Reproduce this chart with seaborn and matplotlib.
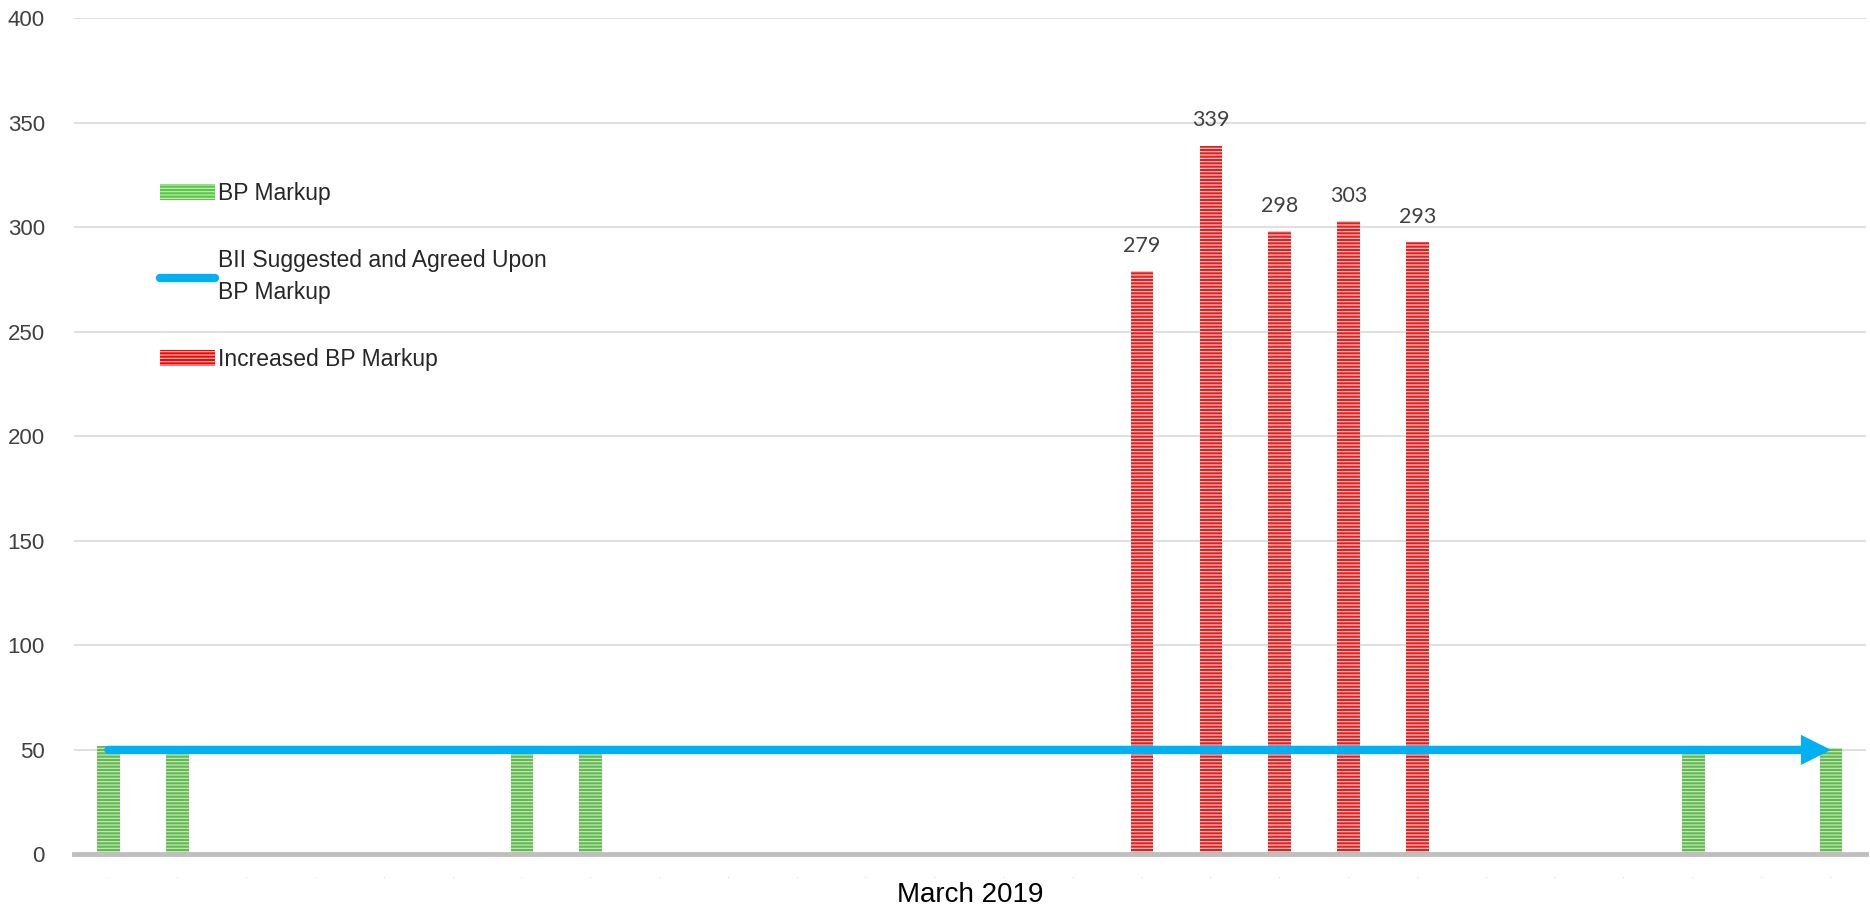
import matplotlib
matplotlib.use('Agg')
import matplotlib.pyplot as plt
import matplotlib.patches as mpatches
from matplotlib.lines import Line2D
import pandas as pd
import seaborn as sns

# data
days = ['1', '2', '3', '4', '5', '6', '7', '8', '9', '10', '11', '12', '13',
        '14', '15', '16', '17', '18', '19', '20', '21', '22', '23', '24', '25', '26']
bp_days = ['1', '2', '7', '8', '24', '26']
bp_values = [52, 49, 49, 49, 49, 51]
increased_days = ['16', '17', '18', '19', '20']
increased_values = [279, 339, 298, 303, 293]
agreed_days = ['1', '26']
agreed_values = [50, 50]

sns.set_style('white')
plt.rcParams['font.family'] = ['Liberation Sans', 'DejaVu Sans']
plt.rcParams['hatch.linewidth'] = 0.85

green, green_light = '#58C646', '#C4EEB4'
red, red_light = '#FF0000', '#FFC8C8'
blue = '#00B0F0'

df = pd.DataFrame({
    'day': bp_days + increased_days,
    'value': bp_values + increased_values,
    'series': ['BP Markup'] * len(bp_days) + ['Increased BP Markup'] * len(increased_days),
})

fig = plt.figure(figsize=(18.7, 9.08), dpi=100)
ax = fig.add_axes([0.0396, 0.059, 0.958, 0.921])

sns.barplot(data=df, x='day', y='value', hue='series', order=days,
            hue_order=['BP Markup', 'Increased BP Markup'],
            palette={'BP Markup': green, 'Increased BP Markup': red},
            dodge=False, width=0.33, legend=False, ax=ax, zorder=2)

for cont, light in zip(ax.containers, [green_light, red_light]):
    for p in cont:
        p.set_hatch('-----')
        p.set_edgecolor(light)
        p.set_linewidth(0)

ax.bar_label(ax.containers[1], padding=11, fontsize=15.5, color='#404040',
             family=['Lato', 'DejaVu Sans'])

# agreed markup arrow
x0, x1 = days.index(agreed_days[0]), days.index(agreed_days[-1])
ax.annotate('', xy=(x1, agreed_values[-1]), xytext=(x0, agreed_values[0]),
            arrowprops=dict(arrowstyle='-|>,head_length=0.6,head_width=0.3',
                            color=blue, lw=6, mutation_scale=20,
                            shrinkA=0, shrinkB=0, capstyle='round',
                            joinstyle='miter'), zorder=3)

ax.set_ylim(0, 400)
ax.set_xlim(-0.5, len(days) - 0.5)
ax.set_yticks(range(0, 401, 50))
ax.yaxis.grid(True, color='#D9D9D9', lw=1.2, zorder=0)
ax.set_axisbelow(True)
for s in ['top', 'right', 'left']:
    ax.spines[s].set_visible(False)
ax.spines['bottom'].set_color('#BFBFBF')
ax.spines['bottom'].set_linewidth(3.5)
ax.tick_params(axis='y', length=0, labelsize=16, labelcolor='#404040', pad=21)
ax.tick_params(axis='x', length=0, labelsize=1.5, labelcolor='#A0A0A0', pad=16)
ax.set_ylabel('')
ax.set_xlabel('March 2019', fontsize=20, color='black', labelpad=3)

handles = [
    mpatches.Patch(facecolor=green, edgecolor=green_light, hatch='-----', lw=0),
    Line2D([0], [0], color=blue, lw=6, solid_capstyle='round'),
    mpatches.Patch(facecolor=red, edgecolor=red_light, hatch='-----', lw=0),
]
labels = ['BP Markup', 'BII Suggested and Agreed Upon\nBP Markup', 'Increased BP Markup']
leg = ax.legend(handles, labels, loc='upper left', bbox_to_anchor=(0.0426, 0.815),
                frameon=False, fontsize=16.5, handlelength=2.4, handletextpad=0.15,
                labelspacing=1.9, borderaxespad=0)
for t in leg.get_texts():
    t.set_linespacing(1.55)

fig.savefig('out.png', dpi=100)
